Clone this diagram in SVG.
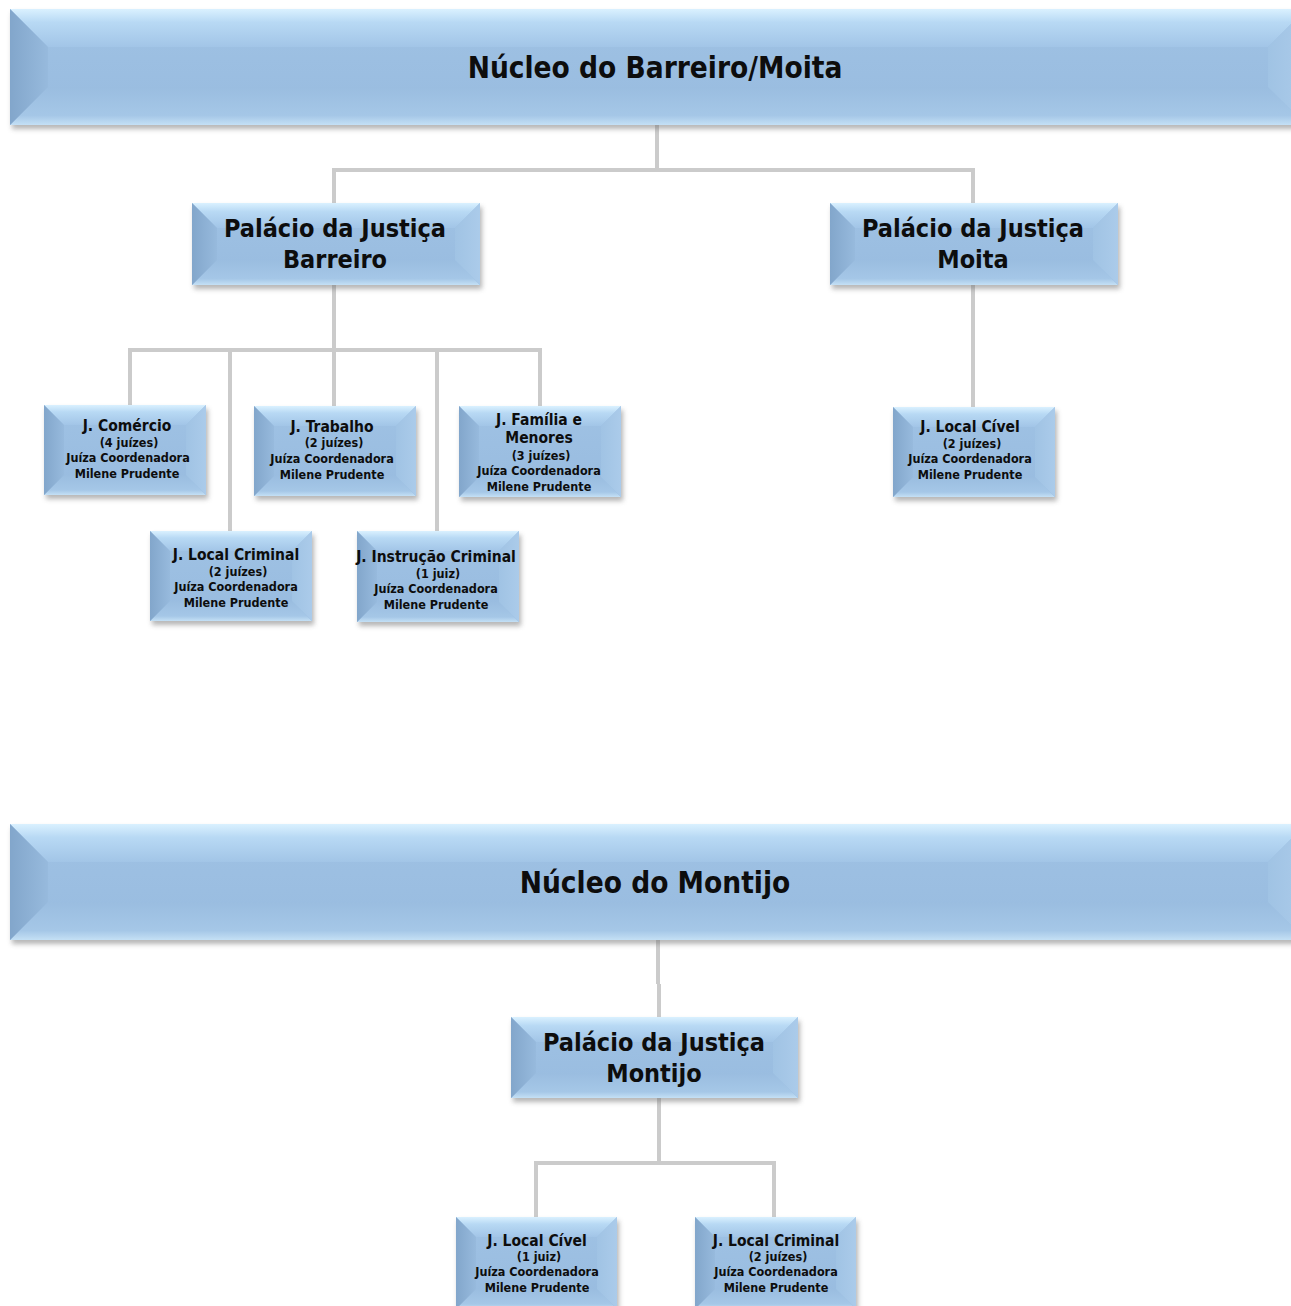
<svg xmlns="http://www.w3.org/2000/svg" width="1291" height="1306" viewBox="0 0 1291 1306">
<defs>
<linearGradient id="face" x1="0" y1="0" x2="0" y2="1"><stop offset="0" stop-color="#9fc2e4"/><stop offset="1" stop-color="#98bbdf"/></linearGradient>
<linearGradient id="topB" x1="0" y1="0" x2="0" y2="1"><stop offset="0" stop-color="#daf1ff"/><stop offset="0.35" stop-color="#b8d9f4"/><stop offset="1" stop-color="#a2c5e7"/></linearGradient>
<linearGradient id="leftB" x1="0" y1="0" x2="1" y2="0"><stop offset="0" stop-color="#82a6cb"/><stop offset="1" stop-color="#97badd"/></linearGradient>
<linearGradient id="rightB" x1="0" y1="0" x2="1" y2="0"><stop offset="0" stop-color="#a0c3e4"/><stop offset="1" stop-color="#abcbea"/></linearGradient>
<linearGradient id="botB" x1="0" y1="0" x2="0" y2="1"><stop offset="0" stop-color="#9abde0"/><stop offset="0.75" stop-color="#a5c7e7"/><stop offset="1" stop-color="#c4e0f5"/></linearGradient>
<filter id="sh" x="-10%" y="-20%" width="120%" height="150%"><feGaussianBlur stdDeviation="2.5"/></filter>
</defs>
<style>
.face{fill:url(#face)}
.tb{fill:url(#topB)}
.lb{fill:url(#leftB)}
.rb{fill:url(#rightB)}
.bb{fill:url(#botB)}
.shadow{fill:#6d6d6d;opacity:0.5;filter:url(#sh)}
.conn{stroke:#cbcbcb;stroke-width:4;fill:none}
text{font-family:"DejaVu Sans","Liberation Sans",sans-serif;font-weight:bold;fill:#0d0d0d;text-anchor:middle;font-stretch:condensed}
.t1{font-size:29.5px}
.t2{font-size:25px}
.t3{font-size:15.5px}
.t4{font-size:12.5px}
</style>
<rect width="1291" height="1306" fill="#ffffff"/>

<g id="connectors">
<path class="conn" d="M657,125 V170 M334,170 H973 M334,168 V203 M973,168 V203"/>
<path class="conn" d="M334,285 V350 M130,350 H540 M130,348 V405 M230,348 V531 M334,348 V406 M437,348 V531 M540,348 V406"/>
<path class="conn" d="M973,285 V407"/>
<path class="conn" d="M658,940 V984 M659,984 V1017"/>
<path class="conn" d="M659,1098 V1163 M536,1163 H774 M536,1161 V1217 M774,1161 V1217"/>
</g>

<g id="nucleo-barreiro-moita">
<rect class="shadow" x="12" y="13" width="1296" height="116"/>
<rect class="face" x="10" y="9" width="1296" height="116"/>
<polygon class="tb" points="10,9 1306,9 1268,47 48,47"/>
<polygon class="bb" points="10,125 1306,125 1268,87 48,87"/>
<polygon class="lb" points="10,9 48,47 48,87 10,125"/>
<polygon class="rb" points="1306,9 1268,47 1268,87 1306,125"/>
<text class="t1" x="655" y="78">Núcleo do Barreiro/Moita</text>
</g>

<g id="palacio-barreiro">
<rect class="shadow" x="194" y="207" width="288" height="82"/>
<rect class="face" x="192" y="203" width="288" height="82"/>
<polygon class="tb" points="192,203 480,203 455,228 217,228"/>
<polygon class="bb" points="192,285 480,285 455,260 217,260"/>
<polygon class="lb" points="192,203 217,228 217,260 192,285"/>
<polygon class="rb" points="480,203 455,228 455,260 480,285"/>
<text class="t2" x="335" y="237">Palácio da Justiça</text>
<text class="t2" x="335" y="268">Barreiro</text>
</g>

<g id="palacio-moita">
<rect class="shadow" x="832" y="207" width="288" height="82"/>
<rect class="face" x="830" y="203" width="288" height="82"/>
<polygon class="tb" points="830,203 1118,203 1093,228 855,228"/>
<polygon class="bb" points="830,285 1118,285 1093,260 855,260"/>
<polygon class="lb" points="830,203 855,228 855,260 830,285"/>
<polygon class="rb" points="1118,203 1093,228 1093,260 1118,285"/>
<text class="t2" x="973" y="237">Palácio da Justiça</text>
<text class="t2" x="973" y="268">Moita</text>
</g>

<g id="j-comercio">
<rect class="shadow" x="46" y="409" width="162" height="90"/>
<rect class="face" x="44" y="405" width="162" height="90"/>
<polygon class="tb" points="44,405 206,405 186,425 64,425"/>
<polygon class="bb" points="44,495 206,495 186,475 64,475"/>
<polygon class="lb" points="44,405 64,425 64,475 44,495"/>
<polygon class="rb" points="206,405 186,425 186,475 206,495"/>
<text class="t3" x="127" y="431">J. Comércio</text>
<text class="t4" x="129" y="447">(4 juízes)</text>
<text class="t4" x="128" y="462">Juíza Coordenadora</text>
<text class="t4" x="127" y="478">Milene Prudente</text>
</g>

<g id="j-trabalho">
<rect class="shadow" x="256" y="410" width="162" height="90"/>
<rect class="face" x="254" y="406" width="162" height="90"/>
<polygon class="tb" points="254,406 416,406 396,426 274,426"/>
<polygon class="bb" points="254,496 416,496 396,476 274,476"/>
<polygon class="lb" points="254,406 274,426 274,476 254,496"/>
<polygon class="rb" points="416,406 396,426 396,476 416,496"/>
<text class="t3" x="332" y="432">J. Trabalho</text>
<text class="t4" x="334" y="447">(2 juízes)</text>
<text class="t4" x="332" y="463">Juíza Coordenadora</text>
<text class="t4" x="332" y="479">Milene Prudente</text>
</g>

<g id="j-familia-menores">
<rect class="shadow" x="461" y="410" width="162" height="91"/>
<rect class="face" x="459" y="406" width="162" height="91"/>
<polygon class="tb" points="459,406 621,406 601,426 479,426"/>
<polygon class="bb" points="459,497 621,497 601,477 479,477"/>
<polygon class="lb" points="459,406 479,426 479,477 459,497"/>
<polygon class="rb" points="621,406 601,426 601,477 621,497"/>
<text class="t3" x="539" y="425">J. Família e</text>
<text class="t3" x="539" y="443">Menores</text>
<text class="t4" x="541" y="460">(3 juízes)</text>
<text class="t4" x="539" y="475">Juíza Coordenadora</text>
<text class="t4" x="539" y="491">Milene Prudente</text>
</g>

<g id="j-local-civel-moita">
<rect class="shadow" x="895" y="411" width="162" height="90"/>
<rect class="face" x="893" y="407" width="162" height="90"/>
<polygon class="tb" points="893,407 1055,407 1035,427 913,427"/>
<polygon class="bb" points="893,497 1055,497 1035,477 913,477"/>
<polygon class="lb" points="893,407 913,427 913,477 893,497"/>
<polygon class="rb" points="1055,407 1035,427 1035,477 1055,497"/>
<text class="t3" x="970" y="432">J. Local Cível</text>
<text class="t4" x="972" y="448">(2 juízes)</text>
<text class="t4" x="970" y="463">Juíza Coordenadora</text>
<text class="t4" x="970" y="479">Milene Prudente</text>
</g>

<g id="j-local-criminal-barreiro">
<rect class="shadow" x="152" y="535" width="162" height="90"/>
<rect class="face" x="150" y="531" width="162" height="90"/>
<polygon class="tb" points="150,531 312,531 292,551 170,551"/>
<polygon class="bb" points="150,621 312,621 292,601 170,601"/>
<polygon class="lb" points="150,531 170,551 170,601 150,621"/>
<polygon class="rb" points="312,531 292,551 292,601 312,621"/>
<text class="t3" x="236" y="560">J. Local Criminal</text>
<text class="t4" x="238" y="576">(2 juízes)</text>
<text class="t4" x="236" y="591">Juíza Coordenadora</text>
<text class="t4" x="236" y="607">Milene Prudente</text>
</g>

<g id="j-instrucao-criminal">
<rect class="shadow" x="359" y="535" width="162" height="91"/>
<rect class="face" x="357" y="531" width="162" height="91"/>
<polygon class="tb" points="357,531 519,531 499,551 377,551"/>
<polygon class="bb" points="357,622 519,622 499,602 377,602"/>
<polygon class="lb" points="357,531 377,551 377,602 357,622"/>
<polygon class="rb" points="519,531 499,551 499,602 519,622"/>
<text class="t3" x="436" y="562">J. Instrução Criminal</text>
<text class="t4" x="438" y="578">(1 juiz)</text>
<text class="t4" x="436" y="593">Juíza Coordenadora</text>
<text class="t4" x="436" y="609">Milene Prudente</text>
</g>

<g id="nucleo-montijo">
<rect class="shadow" x="12" y="828" width="1296" height="116"/>
<rect class="face" x="10" y="824" width="1296" height="116"/>
<polygon class="tb" points="10,824 1306,824 1268,862 48,862"/>
<polygon class="bb" points="10,940 1306,940 1268,902 48,902"/>
<polygon class="lb" points="10,824 48,862 48,902 10,940"/>
<polygon class="rb" points="1306,824 1268,862 1268,902 1306,940"/>
<text class="t1" x="655" y="893">Núcleo do Montijo</text>
</g>

<g id="palacio-montijo">
<rect class="shadow" x="513" y="1021" width="287" height="81"/>
<rect class="face" x="511" y="1017" width="287" height="81"/>
<polygon class="tb" points="511,1017 798,1017 773,1042 536,1042"/>
<polygon class="bb" points="511,1098 798,1098 773,1073 536,1073"/>
<polygon class="lb" points="511,1017 536,1042 536,1073 511,1098"/>
<polygon class="rb" points="798,1017 773,1042 773,1073 798,1098"/>
<text class="t2" x="654" y="1051">Palácio da Justiça</text>
<text class="t2" x="654" y="1082">Montijo</text>
</g>

<g id="j-local-civel-montijo">
<rect class="shadow" x="458" y="1221" width="161" height="92"/>
<rect class="face" x="456" y="1217" width="161" height="92"/>
<polygon class="tb" points="456,1217 617,1217 597,1237 476,1237"/>
<polygon class="bb" points="456,1309 617,1309 597,1289 476,1289"/>
<polygon class="lb" points="456,1217 476,1237 476,1289 456,1309"/>
<polygon class="rb" points="617,1217 597,1237 597,1289 617,1309"/>
<text class="t3" x="537" y="1246">J. Local Cível</text>
<text class="t4" x="539" y="1261">(1 juiz)</text>
<text class="t4" x="537" y="1276">Juíza Coordenadora</text>
<text class="t4" x="537" y="1292">Milene Prudente</text>
</g>

<g id="j-local-criminal-montijo">
<rect class="shadow" x="697" y="1221" width="161" height="92"/>
<rect class="face" x="695" y="1217" width="161" height="92"/>
<polygon class="tb" points="695,1217 856,1217 836,1237 715,1237"/>
<polygon class="bb" points="695,1309 856,1309 836,1289 715,1289"/>
<polygon class="lb" points="695,1217 715,1237 715,1289 695,1309"/>
<polygon class="rb" points="856,1217 836,1237 836,1289 856,1309"/>
<text class="t3" x="776" y="1246">J. Local Criminal</text>
<text class="t4" x="778" y="1261">(2 juízes)</text>
<text class="t4" x="776" y="1276">Juíza Coordenadora</text>
<text class="t4" x="776" y="1292">Milene Prudente</text>
</g>
</svg>
